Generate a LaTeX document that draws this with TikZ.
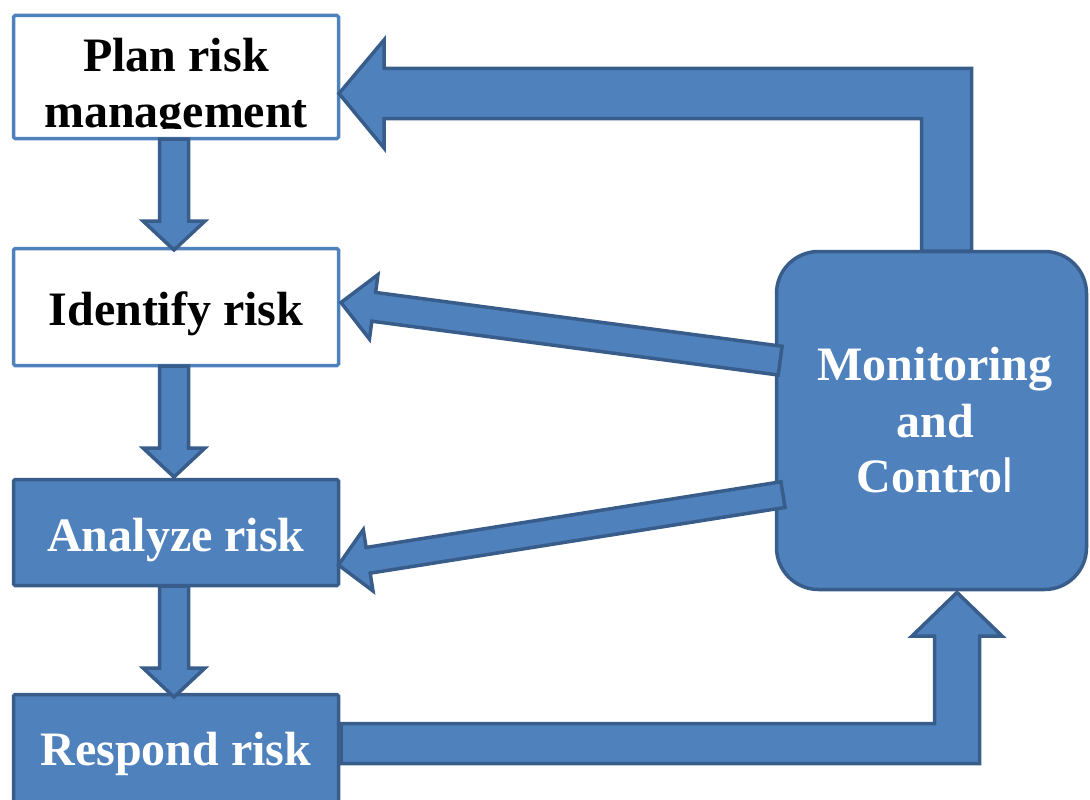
\documentclass[tikz,border=0pt]{standalone}
\usepackage{fontspec}
\setmainfont{Liberation Serif}
\newfontfamily\sansl{Liberation Sans}
\definecolor{boxblue}{RGB}{79,129,189}
\definecolor{darkblue}{RGB}{56,93,138}
\begin{document}
\begin{tikzpicture}[x=1pt,y=-1pt,
  whitebox/.style={draw=boxblue,fill=white,line width=3.5pt,rounded corners=1.5pt,inner sep=0pt,minimum width=325pt},
  bluebox/.style={draw=darkblue,fill=boxblue,line width=3.5pt,rounded corners=1.5pt,inner sep=0pt,minimum width=325pt},
  roundbox/.style={draw=darkblue,fill=boxblue,line width=3.5pt,rounded corners=42pt,inner sep=0pt},
  blockarrow/.style={draw=darkblue,fill=boxblue,line width=3.5pt,line join=miter},
  lbl/.style={font=\fontsize{48}{55}\selectfont\bfseries,inner sep=0pt,anchor=base},
]
\useasboundingbox (0,0) rectangle (1090,800);
\clip (0,0) rectangle (1090,800);

% boxes
\node[whitebox,minimum height=123pt] (plan) at (176,77) {};
\node[whitebox,minimum height=117pt] (identify) at (176,307) {};
\node[bluebox,minimum height=106pt] (analyze) at (176,532.5) {};
\node[bluebox,minimum height=125pt] (respond) at (176,757) {};
\node[roundbox,minimum width=310pt,minimum height=338pt] (mc) at (931.5,420.5) {};

% texts
\begin{scope}
  \clip (0,0) rectangle (1090,128.5);
  \node[lbl,text=black] (plantxt1) at (176,72) {Plan risk};
  \node[lbl,text=black] (plantxt2) at (176,127) {management};
\end{scope}
\node[lbl,text=black] (identtxt) at (176,325) {Identify risk};
\node[lbl,text=white] (analtxt) at (176,551) {Analyze risk};
\node[lbl,text=white] (resptxt) at (176,765) {Respond risk};
\node[lbl,text=white] (mctxt1) at (935,380) {Monitoring};
\node[lbl,text=white] (mctxt2) at (935,437) {and};
\node[lbl,text=white] (mctxt3) at (935,492) {Contro{\sansl\mdseries l}};

% down arrows between the steps
\foreach \t/\b/\p in {139/221/250, 366/448/477, 586/668/697} {
  \draw[blockarrow] (159.5,\t) -- (159.5,\b) -- (143,\b) -- (174,\p) -- (205,\b) -- (188.5,\b) -- (188.5,\t) -- cycle;
}

% feedback arrow to Plan risk management
\draw[blockarrow] (339,93.5) -- (384,40) -- (384,68.5) -- (971.5,68.5) -- (971.5,251) -- (921.5,251) -- (921.5,118.5) -- (384,118.5) -- (384,148) -- cycle;

% slanted arrow to Identify risk
\begin{scope}[shift={(341,302.5)},rotate=-7.54]
  \draw[blockarrow] (0,0) -- (33,-32.5) -- (33,-14.5) -- (443,-14.5) -- (443,14.5) -- (33,14.5) -- (33,32.5) -- cycle;
\end{scope}

% slanted arrow to Analyze risk
\begin{scope}[shift={(338.5,565)},rotate=9.0]
  \draw[blockarrow] (0,0) -- (30,-31) -- (30,-13) -- (450,-13) -- (450,13) -- (30,13) -- (30,31) -- cycle;
\end{scope}

% arrow from Respond risk to Monitoring and Control
\draw[blockarrow] (341,723.5) -- (934.5,723.5) -- (934.5,636) -- (912,636) -- (957,592.5) -- (1002,636) -- (979.5,636) -- (979.5,763.5) -- (341,763.5) -- cycle;
\end{tikzpicture}
\end{document}
